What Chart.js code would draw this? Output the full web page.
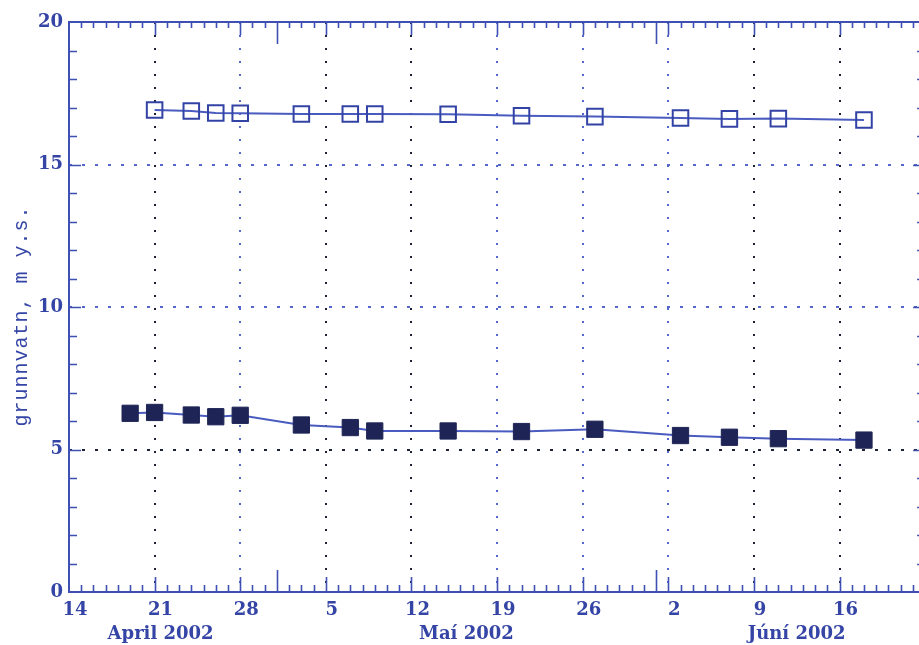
<!DOCTYPE html>
<html><head><meta charset="utf-8">
<script src="https://cdn.jsdelivr.net/npm/chart.js@4/dist/chart.umd.min.js"></script>
<style>
html,body{margin:0;padding:0;background:#fff;overflow:hidden;width:919px;height:645px}
canvas{display:block}
</style>
</head><body><canvas id="c" width="919" height="645"></canvas>
<script>
// ---- data ----
const startDate = '2002-04-14T00:00:00Z';
const endDate = '2002-06-22T12:00:00Z';
const datesOpen = ['2002-04-21','2002-04-24','2002-04-26','2002-04-28','2002-05-03','2002-05-07','2002-05-09','2002-05-15','2002-05-21','2002-05-27','2002-06-03','2002-06-07','2002-06-11','2002-06-18'];
const valuesOpen = [16.91,16.88,16.81,16.80,16.77,16.77,16.77,16.76,16.71,16.68,16.63,16.60,16.61,16.56];
const datesFilled = ['2002-04-19','2002-04-21','2002-04-24','2002-04-26','2002-04-28','2002-05-03','2002-05-07','2002-05-09','2002-05-15','2002-05-21','2002-05-27','2002-06-03','2002-06-07','2002-06-11','2002-06-18'];
const valuesFilled = [6.27,6.30,6.21,6.15,6.20,5.86,5.77,5.65,5.65,5.63,5.71,5.49,5.43,5.38,5.33];
const yTickLabels = [0,5,10,15,20];
const monthLabelDates = ['2002-04-21','2002-05-16','2002-06-12'];
const monthLabelTexts = ['April 2002','Maí 2002','Júní 2002'];
const monthStartDates = ['2002-05-01','2002-06-01'];
const yTitle = 'grunnvatn, m y.s.';

// ---- helpers ----
const DAY = 86400000;
const t0 = Date.parse(startDate);
const dayNum = d => (Date.parse(d.length === 10 ? d + 'T00:00:00Z' : d) - t0) / DAY;
const xMax = dayNum(endDate);
const monthLabelDays = monthLabelDates.map(dayNum);
const monthStartDays = monthStartDates.map(dayNum);
const allDays = [];
for (let i = 0; i <= Math.floor(xMax); i++) allDays.push(i);
const allYs = [];
for (let i = 0; i <= 20; i++) allYs.push(i);

const BLUE = '#3545a6';
const AXIS = '#3f50b5';
const DARKDOT = '#1c2038';
const BLUEDOT = '#5566cc';
const vGridColors = {7:DARKDOT,14:BLUEDOT,21:DARKDOT,28:DARKDOT,35:BLUEDOT,42:BLUEDOT,49:BLUEDOT,56:DARKDOT,63:DARKDOT};
const hGridColors = {5:DARKDOT,10:BLUEDOT,15:BLUEDOT};
const FONT = '"DejaVu Serif"';

const frame = {
  id: 'frame',
  beforeDatasetsDraw(chart) {
    const {ctx, chartArea: a, scales: {x, y}} = chart;
    const rightAxis = x.getPixelForValue(Math.ceil(xMax)); // right frame lies just past the canvas
    ctx.save();
    ctx.strokeStyle = AXIS;
    ctx.lineWidth = 1.6;
    ctx.beginPath();
    for (const v of allDays) {
      if (v === 0) continue;
      const px = Math.round(x.getPixelForValue(v)) + 0.5;
      const isMonth = monthStartDays.includes(v);
      const isWeek = v % 7 === 0;
      const lb = isMonth ? 22 : isWeek ? 15 : 7;
      const lt = isMonth ? 22 : isWeek ? 13 : 6;
      ctx.moveTo(px, a.bottom); ctx.lineTo(px, a.bottom - lb);
      ctx.moveTo(px, a.top); ctx.lineTo(px, a.top + lt);
    }
    for (const v of allYs) {
      if (v === 0 || v === 20) continue;
      const py = Math.round(y.getPixelForValue(v)) + 0.5;
      const l = v % 5 === 0 ? 12 : 8;
      ctx.moveTo(a.left, py); ctx.lineTo(a.left + l, py);
      ctx.moveTo(rightAxis, py); ctx.lineTo(rightAxis - l, py);
    }
    ctx.stroke();
    ctx.lineWidth = 2;
    ctx.beginPath();
    ctx.moveTo(a.right + 2, a.top); ctx.lineTo(a.left, a.top); ctx.lineTo(a.left, a.bottom); ctx.lineTo(a.right + 2, a.bottom);
    ctx.stroke();
    // y-axis title
    ctx.fillStyle = BLUE;
    ctx.font = '20px "Liberation Mono"';
    try { ctx.letterSpacing = '1px'; } catch (e) {}
    ctx.textAlign = 'center';
    ctx.textBaseline = 'middle';
    ctx.translate(22, 316);
    ctx.rotate(-Math.PI / 2);
    ctx.fillText(yTitle, 0, 0);
    ctx.restore();
  }
};

new Chart(document.getElementById('c'), {
  type: 'line',
  data: {
    datasets: [
      {
        data: datesOpen.map((d, i) => ({x: dayNum(d), y: valuesOpen[i]})),
        borderColor: '#4a5bc0', borderWidth: 2,
        pointStyle: 'rect', pointRadius: 11,
        pointBorderColor: '#3343a5', pointBackgroundColor: 'rgba(0,0,0,0)', pointBorderWidth: 2,
        tension: 0
      },
      {
        data: datesFilled.map((d, i) => ({x: dayNum(d), y: valuesFilled[i]})),
        borderColor: '#4a5bc0', borderWidth: 2,
        pointStyle: 'rect', pointRadius: 11.5,
        pointBorderColor: '#1e2556', pointBackgroundColor: '#1e2556', pointBorderWidth: 1,
        tension: 0
      }
    ]
  },
  options: {
    responsive: false,
    animation: false,
    devicePixelRatio: 1,
    layout: {autoPadding: false, padding: {left: 0, top: 22, right: 0, bottom: 0}},
    plugins: {legend: {display: false}, tooltip: {enabled: false}},
    scales: {
      x: {
        type: 'linear', min: 0, max: xMax,
        afterBuildTicks: s => { s.ticks = allDays.map(v => ({value: v})); },
        afterFit: s => { s.height = 53; s.paddingLeft = 0; s.paddingRight = 0; },
        border: {display: false, dash: [2, 11]},
        grid: {
          drawTicks: false, lineWidth: 2,
          color: c => vGridColors[c.tick && Math.round(c.tick.value)] || 'rgba(0,0,0,0)'
        },
        ticks: {
          autoSkip: false, maxRotation: 0, minRotation: 0, padding: 6, labelOffset: 6,
          color: BLUE,
          font: {family: FONT, size: 18, weight: 'bold', lineHeight: 1.35},
          callback: v => {
            const n = Math.round(v);
            const d = new Date(t0 + n * DAY);
            const first = n % 7 === 0 ? String(d.getUTCDate()) : '';
            const mi = monthLabelDays.indexOf(n);
            return mi >= 0 ? [first, monthLabelTexts[mi]] : first;
          }
        }
      },
      y: {
        type: 'linear', min: 0, max: 20,
        afterBuildTicks: s => { s.ticks = allYs.map(v => ({value: v})); },
        afterFit: s => { s.width = 69; s.paddingTop = 0; s.paddingBottom = 0; },
        border: {display: false, dash: [3, 10]},
        grid: {
          drawTicks: false, lineWidth: 2,
          color: c => hGridColors[c.tick && Math.round(c.tick.value)] || 'rgba(0,0,0,0)'
        },
        ticks: {
          padding: 6, color: BLUE,
          font: {family: FONT, size: 18, weight: 'bold'},
          callback: v => yTickLabels.includes(Math.round(v)) ? String(Math.round(v)) : ''
        }
      }
    }
  },
  plugins: [frame]
});
</script>
</body></html>
